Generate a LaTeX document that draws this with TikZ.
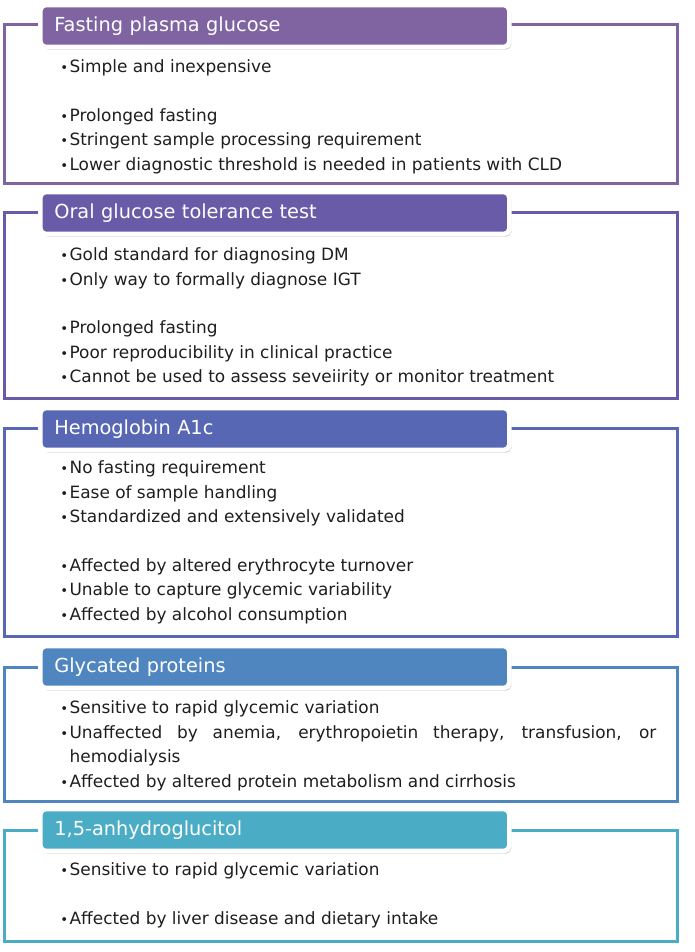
\documentclass[tikz,border=0pt]{standalone}
\usepackage{fontspec}
\setmainfont{DejaVu Sans}
\usetikzlibrary{positioning,shadows}
\definecolor{fpgcol}{RGB}{128,100,162}
\definecolor{ogttcol}{RGB}{106,91,168}
\definecolor{hbacol}{RGB}{88,103,180}
\definecolor{gpcol}{RGB}{79,134,191}
\definecolor{agcol}{RGB}{75,172,198}
\definecolor{txt}{RGB}{30,30,30}
\newcommand{\bul}{\makebox[7pt][l]{\fontsize{10}{10}\selectfont •}}
\newcommand{\nobul}{\hspace*{7pt}}

\begin{document}
\begin{tikzpicture}[x=0.75pt,y=-0.75pt,
    frame/.style={draw=#1, line width=2.25pt},
    head/.style={draw=white, line width=3.5pt, fill=#1, rounded corners=4pt,
      anchor=west, minimum width=351.75pt, minimum height=31.5pt,
      inner xsep=10.5pt, text width=330.75pt, align=left, text=white,
      font=\fontsize{14.5}{16}\selectfont,
      drop shadow={shadow xshift=1.5pt, shadow yshift=-2pt, opacity=0.4}},
    item/.style={anchor=north west, inner sep=0pt, text height=13pt,
      text depth=5pt, font=\fontsize{12.7}{18}\selectfont, text=txt}]
  \useasboundingbox (0,0) rectangle (694,952);

  % Fasting plasma glucose
  \draw[frame=fpgcol] (4,25) rectangle (677,184);
  \node (fpg) [head=fpgcol] at (38,26) {Fasting plasma glucose};
  \node (fpg1) [item] at (60,55) {\bul Simple and inexpensive};
  \node (fpg2) [below=18pt of fpg1.south west, item] {\bul Prolonged fasting};
  \node (fpg3) [below=0pt of fpg2.south west, item] {\bul Stringent sample processing requirement};
  \node (fpg4) [below=0pt of fpg3.south west, item] {\bul Lower diagnostic threshold is needed in patients with CLD};

  % Oral glucose tolerance test
  \draw[frame=ogttcol] (4,213) rectangle (677,398);
  \node (ogtt) [head=ogttcol] at (38,213) {Oral glucose tolerance test};
  \node (ogtt1) [item] at (60,243) {\bul Gold standard for diagnosing DM};
  \node (ogtt2) [below=0pt of ogtt1.south west, item] {\bul Only way to formally diagnose IGT};
  \node (ogtt3) [below=18pt of ogtt2.south west, item] {\bul Prolonged fasting};
  \node (ogtt4) [below=0pt of ogtt3.south west, item] {\bul Poor reproducibility in clinical practice};
  \node (ogtt5) [below=0pt of ogtt4.south west, item] {\bul Cannot be used to assess seveiirity or monitor treatment};

  % Hemoglobin A1c
  \draw[frame=hbacol] (4,428) rectangle (677,636);
  \node (hba) [head=hbacol] at (38,429) {Hemoglobin A1c};
  \node (hba1) [item] at (60,456) {\bul No fasting requirement};
  \node (hba2) [below=0pt of hba1.south west, item] {\bul Ease of sample handling};
  \node (hba3) [below=0pt of hba2.south west, item] {\bul Standardized and extensively validated};
  \node (hba4) [below=18pt of hba3.south west, item] {\bul Affected by altered erythrocyte turnover};
  \node (hba5) [below=0pt of hba4.south west, item] {\bul Unable to capture glycemic variability};
  \node (hba6) [below=0pt of hba5.south west, item] {\bul Affected by alcohol consumption};

  % Glycated proteins
  \draw[frame=gpcol] (4,667) rectangle (677,801);
  \node (gp) [head=gpcol] at (38,667) {Glycated proteins};
  \node (gp1) [item] at (60,696) {\bul Sensitive to rapid glycemic variation};
  \node (gp2) [below=0pt of gp1.south west, item] {\bul\makebox[440pt][s]{Unaffected by anemia, erythropoietin therapy, transfusion, or}};
  \node (gp3) [below=0pt of gp2.south west, item] {\nobul hemodialysis};
  \node (gp4) [below=0pt of gp3.south west, item] {\bul Affected by altered protein metabolism and cirrhosis};

  % 1,5-anhydroglucitol
  \draw[frame=agcol] (4,830) rectangle (677,941);
  \node (ag) [head=agcol] at (38,830) {1,5-anhydroglucitol};
  \node (ag1) [item] at (60,858) {\bul Sensitive to rapid glycemic variation};
  \node (ag2) [below=18pt of ag1.south west, item] {\bul Affected by liver disease and dietary intake};
\end{tikzpicture}
\end{document}
